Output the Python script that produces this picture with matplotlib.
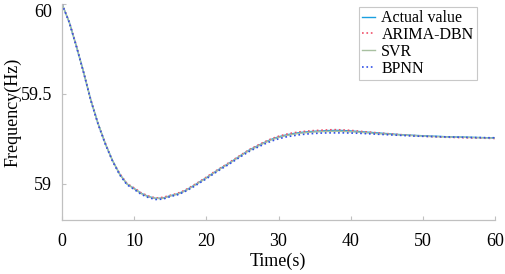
import matplotlib
matplotlib.use("Agg")
import matplotlib.pyplot as plt
import numpy as np

t = list(range(0, 61))

actual = [60.000, 59.900, 59.765, 59.620, 59.465, 59.335, 59.225, 59.130, 59.055, 59.000,
          58.975, 58.948, 58.930, 58.920, 58.922, 58.935, 58.945, 58.962, 58.985, 59.010,
          59.035, 59.062, 59.088, 59.112, 59.138, 59.165, 59.190, 59.210, 59.230, 59.248,
          59.262, 59.272, 59.280, 59.286, 59.290, 59.293, 59.295, 59.297, 59.298, 59.297,
          59.295, 59.292, 59.289, 59.286, 59.283, 59.280, 59.277, 59.274, 59.272, 59.270,
          59.268, 59.266, 59.265, 59.263, 59.262, 59.261, 59.260, 59.259, 59.258, 59.257,
          59.256]

arima_dbn = [60.000, 59.902, 59.768, 59.618, 59.468, 59.332, 59.228, 59.128, 59.058, 59.003,
             58.978, 58.950, 58.933, 58.922, 58.926, 58.937, 58.948, 58.965, 58.988, 59.012,
             59.038, 59.065, 59.090, 59.115, 59.141, 59.167, 59.192, 59.213, 59.233, 59.251,
             59.265, 59.276, 59.284, 59.290, 59.294, 59.297, 59.299, 59.301, 59.302, 59.300,
             59.298, 59.294, 59.290, 59.287, 59.283, 59.280, 59.277, 59.274, 59.271, 59.269,
             59.266, 59.264, 59.262, 59.260, 59.259, 59.258, 59.257, 59.256, 59.255, 59.254,
             59.253]

svr = [60.000, 59.899, 59.763, 59.621, 59.463, 59.336, 59.223, 59.131, 59.053, 59.001,
       58.973, 58.946, 58.928, 58.919, 58.920, 58.933, 58.943, 58.960, 58.983, 59.008,
       59.033, 59.060, 59.086, 59.110, 59.136, 59.163, 59.187, 59.207, 59.227, 59.245,
       59.258, 59.268, 59.276, 59.282, 59.286, 59.289, 59.291, 59.292, 59.293, 59.292,
       59.290, 59.288, 59.285, 59.282, 59.279, 59.277, 59.274, 59.272, 59.270, 59.268,
       59.266, 59.264, 59.263, 59.262, 59.261, 59.260, 59.259, 59.258, 59.257, 59.256,
       59.255]

bpnn = [60.000, 59.898, 59.762, 59.619, 59.462, 59.333, 59.221, 59.127, 59.050, 58.996,
        58.970, 58.942, 58.924, 58.914, 58.916, 58.930, 58.940, 58.957, 58.979, 59.004,
        59.029, 59.056, 59.082, 59.106, 59.132, 59.158, 59.182, 59.202, 59.221, 59.238,
        59.251, 59.261, 59.268, 59.274, 59.278, 59.281, 59.283, 59.284, 59.284, 59.284,
        59.283, 59.282, 59.280, 59.278, 59.276, 59.274, 59.272, 59.270, 59.268, 59.266,
        59.265, 59.264, 59.263, 59.262, 59.261, 59.260, 59.259, 59.258, 59.258, 59.257,
        59.257]

labels = ["Actual value", "ARIMA-DBN", "SVR", "BPNN"]
x_ticks = [0, 10, 20, 30, 40, 50, 60]
y_ticks = [59, 59.5, 60]
y_tick_labels = ["59", "59.5", "60"]

plt.rcParams['font.family'] = ['Liberation Serif', 'DejaVu Serif']

fig = plt.figure(figsize=(5.05, 2.74), dpi=100)
ax = fig.add_axes([62/505, 1-220/274, (495-62)/505, (220-4)/274])

ax.plot(t, actual, color='#1a9fe0', lw=1.0, ls='-', label=labels[0])
ax.plot(t, arima_dbn, color='#f0506a', lw=1.2, ls=':', label=labels[1])
ax.plot(t, svr, color='#a8c0a0', lw=1.0, ls='-', label=labels[2])
ax.plot(t, bpnn, color='#3050e8', lw=1.2, ls=':', label=labels[3])

ax.set_xlim(0, 60)
ax.set_ylim(58.8, 60)
ax.set_xticks(x_ticks)
ax.set_xticklabels([str(v) for v in x_ticks])
ax.set_yticks(y_ticks)
ax.set_yticklabels(y_tick_labels)
ax.get_yticklabels()[-1].set_va('top')

for s in ['top', 'right']:
    ax.spines[s].set_visible(False)
for s in ['left', 'bottom']:
    ax.spines[s].set_color('#c0c0c0')
    ax.spines[s].set_linewidth(0.9)
ax.tick_params(direction='in', length=3, color='#c0c0c0', labelsize=13)
ax.tick_params(axis='x', pad=9)
ax.tick_params(axis='y', pad=7)

ax.set_xlabel("Time(s)", fontsize=13, va='center')
ax.xaxis.set_label_coords((278-62)/433, (220-261)/216)
ax.set_ylabel("Frequency(Hz)", fontsize=13, va='center')
ax.yaxis.set_label_coords((13-62)/433, (220-112)/216)

leg = ax.legend(loc='upper right', bbox_to_anchor=(0.958, 0.986), fontsize=11.5,
                frameon=True, fancybox=False, edgecolor='#c8c8c8', framealpha=1,
                handlelength=0.8, handletextpad=0.4, labelspacing=0.05,
                borderpad=0.2, borderaxespad=0)
leg.get_frame().set_linewidth(0.8)

fig.savefig("out.png", dpi=100)
